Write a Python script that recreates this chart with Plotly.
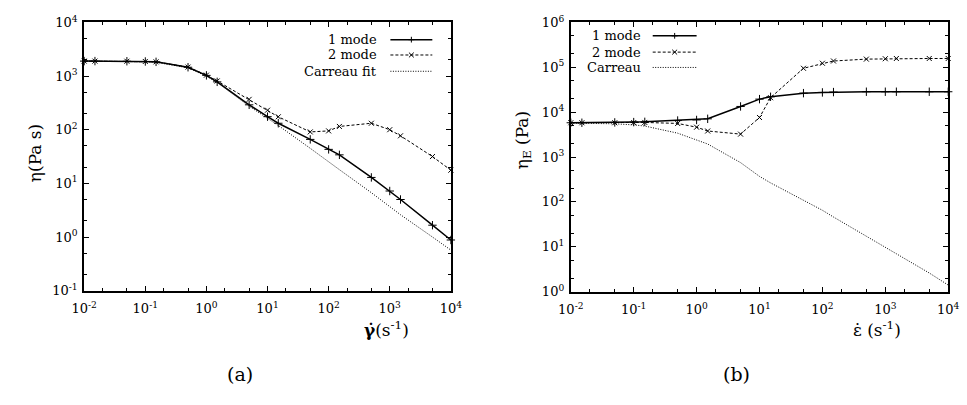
import plotly.graph_objects as go

# ---------------- data ----------------
rate = [0.01, 0.015, 0.05, 0.1, 0.15, 0.5, 1, 1.5, 5, 10, 15, 50, 100, 150, 500, 1000, 1500, 5000, 10000]

# (a) shear viscosity
shear_1mode = [1900, 1900, 1890, 1870, 1840, 1460, 1030, 780, 291, 175, 132, 66, 43, 34, 12.9, 7.2, 5.0, 1.66, 0.88]
shear_2mode = [1900, 1900, 1890, 1870, 1840, 1470, 1040, 810, 368, 231, 174, 91, 95, 115, 132, 100, 77, 31.6, 17.6]
shear_carreau = [1900, 1900, 1880, 1850, 1810, 1420, 1000, 760, 275, 165, 120, 45, 25, 18, 6.7, 3.7, 2.6, 1.0, 0.57]

# (b) extensional viscosity
ext_1mode = [5800, 5800, 5900, 6000, 6080, 6500, 6700, 7100, 13400, 19500, 22000, 26500, 27500, 28000, 28500, 28500, 28500, 28500, 28500]
ext_2mode = [5800, 5800, 5800, 5850, 5900, 5600, 4620, 3800, 3240, 7600, 21000, 95000, 123000, 138000, 152000, 155000, 157000, 157000, 157000]
ext_carreau = [5700, 5700, 5500, 5200, 4900, 3400, 2450, 1950, 750, 370, 265, 108, 65, 46, 17, 9.8, 6.9, 2.6, 1.4]

x_tickvals = [0.01, 0.1, 1, 10, 100, 1000, 10000]
x_ticktext = ["10<sup>-2</sup>", "10<sup>-1</sup>", "10<sup>0</sup>", "10<sup>1</sup>",
              "10<sup>2</sup>", "10<sup>3</sup>", "10<sup>4</sup>"]
ya_tickvals = [0.1, 1, 10, 100, 1000, 10000]
ya_ticktext = ["10<sup>-1</sup>", "10<sup>0</sup>", "10<sup>1</sup>", "10<sup>2</sup>",
               "10<sup>3</sup>", "10<sup>4</sup>"]
yb_tickvals = [1, 10, 100, 1000, 10000, 100000, 1000000]
yb_ticktext = ["10<sup>0</sup>", "10<sup>1</sup>", "10<sup>2</sup>", "10<sup>3</sup>",
               "10<sup>4</sup>", "10<sup>5</sup>", "10<sup>6</sup>"]

legend_a = ["1 mode", "2 mode", "Carreau fit"]
legend_b = ["1 mode", "2 mode", "Carreau"]

# ---------------- layout helpers ----------------
W, H = 967, 405
FONT = "DejaVu Serif"


def px(x):
    return x / W


def py(y):
    return 1 - y / H


styles = [
    dict(line=dict(color="black", width=1.5, dash="solid"),
         marker=dict(symbol="cross-thin", size=6, line=dict(color="black", width=1)), sym="+"),
    dict(line=dict(color="black", width=1, dash="3px,2px"),
         marker=dict(symbol="x-thin", size=5, line=dict(color="black", width=1)), sym="x"),
    dict(line=dict(color="black", width=1, dash="1px,1.5px"), marker=None, sym=None),
]

fig = go.Figure()

for xa, ya, series in [("x", "y", [shear_1mode, shear_2mode, shear_carreau]),
                       ("x2", "y2", [ext_1mode, ext_2mode, ext_carreau])]:
    for s, st in zip(series, styles):
        fig.add_trace(go.Scatter(
            x=rate, y=s, xaxis=xa, yaxis=ya,
            mode="lines+markers" if st["marker"] else "lines",
            line=st["line"], marker=st["marker"], cliponaxis=False, showlegend=False,
        ))

axis_common = dict(
    type="log", showline=True, linecolor="black", linewidth=2, mirror="allticks",
    ticks="inside", ticklen=5, tickwidth=1.2, tickcolor="black", showgrid=False, zeroline=False,
    tickfont=dict(family=FONT, size=13, color="black"),
    minor=dict(ticks="inside", ticklen=3, tickwidth=1, tickcolor="black", dtick="D2", showgrid=False),
)

fig.update_layout(
    width=W, height=H, margin=dict(l=0, r=0, t=0, b=0),
    paper_bgcolor="white", plot_bgcolor="white", showlegend=False,
    font=dict(family=FONT, color="black"),
    xaxis=dict(axis_common, domain=[px(73), px(449)], range=[-2, 4], anchor="y",
               tickvals=x_tickvals, ticktext=x_ticktext, ticklabelstandoff=5),
    yaxis=dict(axis_common, domain=[py(294), py(14)], range=[-1, 4], anchor="x",
               tickvals=ya_tickvals, ticktext=ya_ticktext, ticklabelstandoff=2),
    xaxis2=dict(axis_common, domain=[px(572), px(959)], range=[-2, 4], anchor="y2",
                tickvals=x_tickvals, ticktext=x_ticktext, ticklabelstandoff=5),
    yaxis2=dict(axis_common, domain=[py(295), py(14)], range=[0, 6], anchor="x2",
                tickvals=yb_tickvals, ticktext=yb_ticktext, ticklabelstandoff=2),
)

ann = []
shapes = []


def text(x, y, t, size=13, anchor="center", angle=0):
    ann.append(dict(x=px(x), y=py(y), xref="paper", yref="paper", text=t, showarrow=False,
                    xanchor=anchor, yanchor="middle", textangle=angle,
                    font=dict(family=FONT, size=size, color="black")))


def seg(x0, y0, x1, y1, width=1, dash="solid"):
    shapes.append(dict(type="line", xref="paper", yref="paper",
                       x0=px(x0), x1=px(x1), y0=py(y0), y1=py(y1),
                       line=dict(color="black", width=width, dash=dash)))


# axis titles and panel labels
text(383, 334, "<b>γ̇</b>(s<sup>-1</sup>)", size=17)
text(886, 334, "ε̇ (s<sup>-1</sup>)", size=17)
text(22, 150, "η(Pa s)", size=17, angle=-90)
text(523, 137, "η<sub>E</sub> (Pa)", size=17, angle=-90)
text(233, 381, "(a)", size=19)
text(742, 381, "(b)", size=19)

# custom gnuplot-style legends (label right-aligned, sample to the right)
for labels, tx, x0, x1, ys in [(legend_a, 375, 387, 430, [32, 48, 65]),
                               (legend_b, 646, 656, 701, [28, 45, 61])]:
    for lab, st, yy in zip(labels, styles, ys):
        text(tx, yy, lab, size=13, anchor="right")
        seg(x0, yy, x1, yy, st["line"]["width"], st["line"]["dash"])
        cx = (x0 + x1) / 2
        if st["sym"] == "+":
            seg(cx - 3, yy, cx + 3, yy)
            seg(cx, yy - 3, cx, yy + 3)
        elif st["sym"] == "x":
            seg(cx - 2.5, yy - 2.5, cx + 2.5, yy + 2.5)
            seg(cx - 2.5, yy + 2.5, cx + 2.5, yy - 2.5)

fig.update_layout(annotations=ann, shapes=shapes)
fig.write_html("out.html")
